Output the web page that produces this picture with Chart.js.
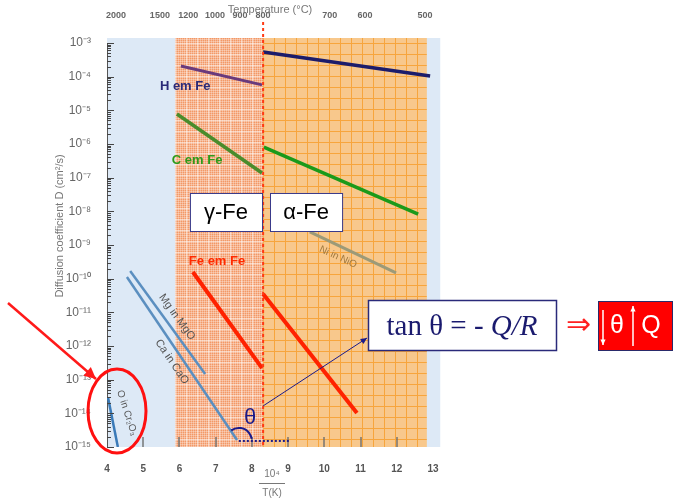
<!DOCTYPE html>
<html>
<head>
<meta charset="utf-8">
<script src="https://cdn.jsdelivr.net/npm/chart.js@4/dist/chart.umd.min.js"></script>
<style>
  html, body { margin: 0; padding: 0; background: #fff; }
</style>
</head>
<body>
<canvas id="chart" width="674" height="502"></canvas>
<script>
// tick labels
const xTicks = [4, 5, 6, 7, 8, 9, 10, 11, 12, 13];
const yExponents = [-3, -4, -5, -6, -7, -8, -9, -10, -11, -12, -13, -14, -15];
const tempLabels = ['2000', '1500', '1200', '1000', '900', '800', '700', '600', '500'];
const tempPositions = [4.25, 5.46, 6.24, 6.98, 7.67, 8.31, 10.15, 11.12, 12.78];

// series: [10^4/T, D (cm2/s)]
const hInAlpha = [[8.31, 5.4e-4], [12.92, 1.05e-4]];
const hInGamma = [[6.04, 2.07e-4], [8.28, 5.7e-5]];
const cInGamma = [[5.93, 7.8e-6], [8.28, 1.38e-7]];
const cInAlpha = [[8.33, 8.1e-7], [12.59, 8.3e-9]];
const feInGamma = [[6.37, 1.58e-10], [8.28, 2.2e-13]];
const feInAlpha = [[8.31, 3.5e-11], [10.90, 1.03e-14]];
const niInNiO = [[9.60, 2.44e-9], [11.98, 1.48e-10]];
const mgInMgO = [[4.64, 1.69e-10], [6.71, 1.48e-13]];
const caInCaO = [[4.55, 1.12e-10], [7.59, 1.62e-15]];
const oInOxide = [[4.03, 2.9e-14], [4.30, 1.0e-15]];

// phase regions on the x axis
const gammaRange = [5.88, 8.31];
const alphaRange = [8.31, 12.83];

const SANS = '"Liberation Sans", Arial, sans-serif';
const SERIF = '"Liberation Serif", "Times New Roman", serif';
const SUP = { '0': '⁰', '1': '¹', '2': '²', '3': '³', '4': '⁴', '5': '⁵', '6': '⁶', '7': '⁷', '8': '⁸', '9': '⁹', '-': '⁻' };
const sup = n => String(n).split('').map(c => SUP[c]).join('');

function makePattern(bg, draw) {
    const c = document.createElement('canvas');
    c.width = 11; c.height = 11;
    const g = c.getContext('2d');
    g.fillStyle = bg;
    g.fillRect(0, 0, 11, 11);
    draw(g);
    return c;
}

const gammaTile = makePattern('#f39866', g => {
    g.fillStyle = 'rgba(255,255,255,0.3)';
    for (let i = 0; i < 11; i += 2) {
        g.fillRect(i, 0, 1, 11);
        g.fillRect(0, i, 11, 1);
    }
    g.fillStyle = 'rgba(255,255,255,0.35)';
    g.fillRect(10, 0, 1, 11);
    g.fillRect(0, 10, 11, 1);
});
const alphaTile = makePattern('#f8c88c', g => {
    g.fillStyle = '#f7a53c';
    g.fillRect(10, 0, 1, 11);
    g.fillRect(0, 10, 11, 1);
});

function line(pts, color, width, dash) {
    return {
        data: pts.map(p => ({ x: p[0], y: p[1] })),
        borderColor: color,
        borderWidth: width,
        borderDash: dash || [],
        pointRadius: 0,
        fill: false,
        tension: 0
    };
}

function arrow(ctx, x1, y1, x2, y2, color, w, head) {
    ctx.save();
    ctx.strokeStyle = color;
    ctx.fillStyle = color;
    ctx.lineWidth = w;
    ctx.beginPath();
    ctx.moveTo(x1, y1);
    ctx.lineTo(x2, y2);
    ctx.stroke();
    const a = Math.atan2(y2 - y1, x2 - x1);
    ctx.beginPath();
    ctx.moveTo(x2, y2);
    ctx.lineTo(x2 - head * Math.cos(a - 0.45), y2 - head * Math.sin(a - 0.45));
    ctx.lineTo(x2 - head * Math.cos(a + 0.45), y2 - head * Math.sin(a + 0.45));
    ctx.closePath();
    ctx.fill();
    ctx.restore();
}

function rotText(ctx, text, x, y, deg, font, color) {
    ctx.save();
    ctx.translate(x, y);
    ctx.rotate(deg * Math.PI / 180);
    ctx.font = font;
    ctx.fillStyle = color;
    ctx.textAlign = 'center';
    ctx.textBaseline = 'middle';
    ctx.fillText(text, 0, 0);
    ctx.restore();
}

function box(ctx, x, y, w, h, fill, stroke, lw) {
    ctx.save();
    ctx.fillStyle = fill;
    ctx.fillRect(x, y, w, h);
    ctx.strokeStyle = stroke;
    ctx.lineWidth = lw;
    ctx.strokeRect(x + 0.5, y + 0.5, w, h);
    ctx.restore();
}

const decor = {
    id: 'decor',
    beforeDraw(chart) {
        const ctx = chart.ctx, ca = chart.chartArea, xs = chart.scales.x;
        ctx.save();
        ctx.fillStyle = '#dde9f6';
        ctx.fillRect(ca.left, ca.top - 5, xs.getPixelForValue(13.2) - ca.left, ca.bottom - ca.top + 5);
        const g0 = xs.getPixelForValue(gammaRange[0]), g1 = xs.getPixelForValue(gammaRange[1]);
        ctx.fillStyle = ctx.createPattern(gammaTile, 'repeat');
        ctx.fillRect(g0, ca.top - 5, g1 - g0, ca.bottom - ca.top + 5);
        const a0 = xs.getPixelForValue(alphaRange[0]), a1 = xs.getPixelForValue(alphaRange[1]);
        ctx.fillStyle = ctx.createPattern(alphaTile, 'repeat');
        ctx.fillRect(a0, ca.top - 5, a1 - a0, ca.bottom - ca.top + 5);
        ctx.restore();
    },
    afterDatasetsDraw(chart) {
        const ctx = chart.ctx, ca = chart.chartArea, xs = chart.scales.x, ys = chart.scales.y;
        const px = v => xs.getPixelForValue(v);
        const py = e => ys.getPixelForValue(Math.pow(10, e));
        ctx.save();

        // inward ticks
        ctx.strokeStyle = '#444';
        ctx.lineWidth = 1;
        ys.ticks.forEach(t => {
            const y = Math.round(ys.getPixelForValue(t.value)) + 0.5;
            const len = t.major ? 7 : 4;
            ctx.beginPath();
            ctx.moveTo(ca.left, y);
            ctx.lineTo(ca.left + len, y);
            ctx.stroke();
        });
        ctx.strokeStyle = 'rgba(110,110,110,0.7)';
        ctx.lineWidth = 2;
        xTicks.slice(1, -1).forEach(v => {
            const x = Math.round(px(v));
            ctx.beginPath();
            ctx.moveTo(x, ca.bottom);
            ctx.lineTo(x, ca.bottom - 10);
            ctx.stroke();
        });

        // alpha/gamma transition
        ctx.strokeStyle = '#ff3a14';
        ctx.lineWidth = 2;
        ctx.setLineDash([3, 3]);
        ctx.beginPath();
        ctx.moveTo(px(alphaRange[0]), 22);
        ctx.lineTo(px(alphaRange[0]), ca.bottom);
        ctx.stroke();
        ctx.setLineDash([]);

        // series labels
        ctx.textBaseline = 'middle';
        ctx.textAlign = 'left';
        ctx.font = 'bold 13px ' + SANS;
        ctx.fillStyle = '#2a2a78';
        ctx.fillText('H em Fe', px(5.46), py(-4.28));
        ctx.fillStyle = '#2e9a1a';
        ctx.fillText('C em Fe', px(5.79), py(-6.50));
        ctx.fillStyle = '#ff2a00';
        ctx.fillText('Fe em Fe', px(6.26), py(-9.50));

        rotText(ctx, 'Mg in MgO', px(5.93), py(-11.14), 54, '11px ' + SANS, '#555');
        rotText(ctx, 'Ca in CaO', px(5.79), py(-12.47), 56, '11px ' + SANS, '#555');
        rotText(ctx, 'Ni in NiO', px(10.38), py(-9.36), 25, '10px ' + SANS, '#a07a40');
        rotText(ctx, 'O in Cr₂O₃', px(4.55), py(-13.99), 72, '10px ' + SANS, '#555');

        // phase boxes
        [['γ-Fe', 6.29, 8.28], ['α-Fe', 8.50, 10.49]].forEach(([t, x0, x1]) => {
            const l = px(x0), r = px(x1), top = py(-7.455), bot = py(-8.584);
            box(ctx, l, top, r - l, bot - top, '#fff', '#3a3a8a', 1);
            ctx.font = '22px ' + SANS;
            ctx.fillStyle = '#000';
            ctx.textAlign = 'center';
            ctx.fillText(t, (l + r) / 2, (top + bot) / 2 + 1);
        });

        // theta construction
        const vx = px(7.64), vy = py(-14.82);
        ctx.strokeStyle = '#1a1a8a';
        ctx.lineWidth = 2;
        ctx.setLineDash([2, 2]);
        ctx.beginPath();
        ctx.moveTo(vx, vy);
        ctx.lineTo(px(9.05), vy);
        ctx.stroke();
        ctx.setLineDash([]);
        ctx.beginPath();
        ctx.arc(vx, vy, 13, Math.PI * 1.3, Math.PI * 1.95);
        ctx.stroke();
        ctx.font = '22px ' + SANS;
        ctx.fillStyle = '#1a1a8a';
        ctx.textAlign = 'center';
        ctx.fillText('θ', px(7.95), py(-14.14));
        arrow(ctx, px(8.31), py(-13.78), 367, 338, '#1a1a8a', 1, 7);

        // callout
        box(ctx, 368, 300, 188, 50, '#fff', '#2a2a7a', 1.5);
        ctx.fillStyle = '#1a1a6e';
        ctx.textAlign = 'left';
        ctx.font = '29px ' + SERIF;
        const a = 'tan θ = - ';
        const wa = ctx.measureText(a).width;
        ctx.font = 'italic 29px ' + SERIF;
        const wb = ctx.measureText('Q/R').width;
        const sx = 462 - (wa + wb) / 2;
        ctx.font = '29px ' + SERIF;
        ctx.fillText(a, sx, 327);
        ctx.font = 'italic 29px ' + SERIF;
        ctx.fillText('Q/R', sx + wa, 327);

        ctx.font = '30px ' + SERIF;
        ctx.fillStyle = '#ff2020';
        ctx.textAlign = 'center';
        ctx.fillText('⇒', 578, 326);

        box(ctx, 598, 301, 74, 49, '#ff0000', '#2a2a6a', 1);
        arrow(ctx, 603, 310, 603, 345, '#fff', 1.5, 6);
        arrow(ctx, 633, 346, 633, 306, '#fff', 1.5, 6);
        ctx.fillStyle = '#fff';
        ctx.font = '25px ' + SANS;
        ctx.fillText('θ', 617, 326);
        ctx.fillText('Q', 651, 326);

        // red pointer and ellipse
        arrow(ctx, 8, 303, 96, 379, '#ff1a1a', 2.5, 13);
        ctx.strokeStyle = '#ff1010';
        ctx.lineWidth = 3;
        ctx.beginPath();
        ctx.ellipse(117, 411, 29, 42, 0, 0, Math.PI * 2);
        ctx.stroke();

        // axis titles
        ctx.fillStyle = '#777';
        ctx.font = '11px ' + SANS;
        ctx.textAlign = 'center';
        ctx.fillText('Temperature (°C)', 270, 10);
        rotText(ctx, 'Diffusion coefficient D (cm²/s)', 60, 226, -90, '11px ' + SANS, '#777');
        ctx.fillStyle = '#777';
        ctx.font = '10px ' + SANS;
        ctx.fillText('10⁴', 272, 474);
        ctx.fillText('T(K)', 272, 493);
        ctx.strokeStyle = '#777';
        ctx.lineWidth = 1;
        ctx.beginPath();
        ctx.moveTo(259, 483.5);
        ctx.lineTo(285, 483.5);
        ctx.stroke();

        ctx.restore();
    }
};

new Chart(document.getElementById('chart'), {
    type: 'line',
    data: {
        datasets: [
            line(hInAlpha, '#1c1c6b', 3.5),
            line(hInGamma, '#6a3a7c', 3),
            line(cInGamma, '#4a8c2c', 3.5),
            line(cInAlpha, '#1a9a1a', 3.5),
            line(feInGamma, '#ff2200', 4),
            line(feInAlpha, '#ff2200', 4),
            line(niInNiO, '#9c9a78', 3),
            line(mgInMgO, '#5b8fc0', 2.5),
            line(caInCaO, '#5b8fc0', 2.5),
            line(oInOxide, '#3a7ab8', 2.5)
        ]
    },
    options: {
        responsive: false,
        animation: false,
        devicePixelRatio: 1,
        layout: { padding: { left: 0, right: 241, top: 0, bottom: 0 } },
        plugins: { legend: { display: false }, tooltip: { enabled: false } },
        scales: {
            x: {
                type: 'linear', position: 'bottom', min: 4, max: 13,
                afterBuildTicks: s => { s.ticks = xTicks.map(v => ({ value: v })); },
                afterFit: s => { s.height = 55; },
                grid: { display: false },
                border: { display: false },
                ticks: { autoSkip: false, maxRotation: 0, padding: 8, color: '#555', font: { family: SANS, size: 10, weight: 'bold' } }
            },
            x2: {
                type: 'linear', position: 'top', min: 4, max: 13,
                afterBuildTicks: s => { s.ticks = tempPositions.map(v => ({ value: v })); },
                afterFit: s => { s.height = 43; },
                grid: { display: false },
                border: { display: false },
                ticks: {
                    autoSkip: false, maxRotation: 0, padding: 14, color: '#666',
                    font: { family: SANS, size: 9, weight: 'bold' },
                    callback: (v, i) => tempLabels[i]
                }
            },
            y: {
                type: 'logarithmic', min: 1e-15, max: 1e-3,
                afterBuildTicks: s => {
                    const t = [];
                    for (let e = -15; e < -3; e++) {
                        for (let m = 1; m < 10; m++) t.push({ value: m * Math.pow(10, e), major: m === 1 });
                    }
                    t.push({ value: 1e-3, major: true });
                    s.ticks = t;
                },
                afterFit: s => { s.width = 107; },
                grid: { display: false },
                border: { display: true, color: '#555', width: 1 },
                ticks: {
                    autoSkip: false, padding: 8, color: '#666',
                    font: { family: SANS, size: 12 },
                    callback: v => {
                        const e = Math.round(Math.log10(v));
                        if (Math.abs(v / Math.pow(10, e) - 1) > 1e-6) return '';
                        return yExponents.includes(e) ? '10' + sup(e) : '';
                    }
                }
            }
        }
    },
    plugins: [decor]
});
</script>
</body>
</html>
